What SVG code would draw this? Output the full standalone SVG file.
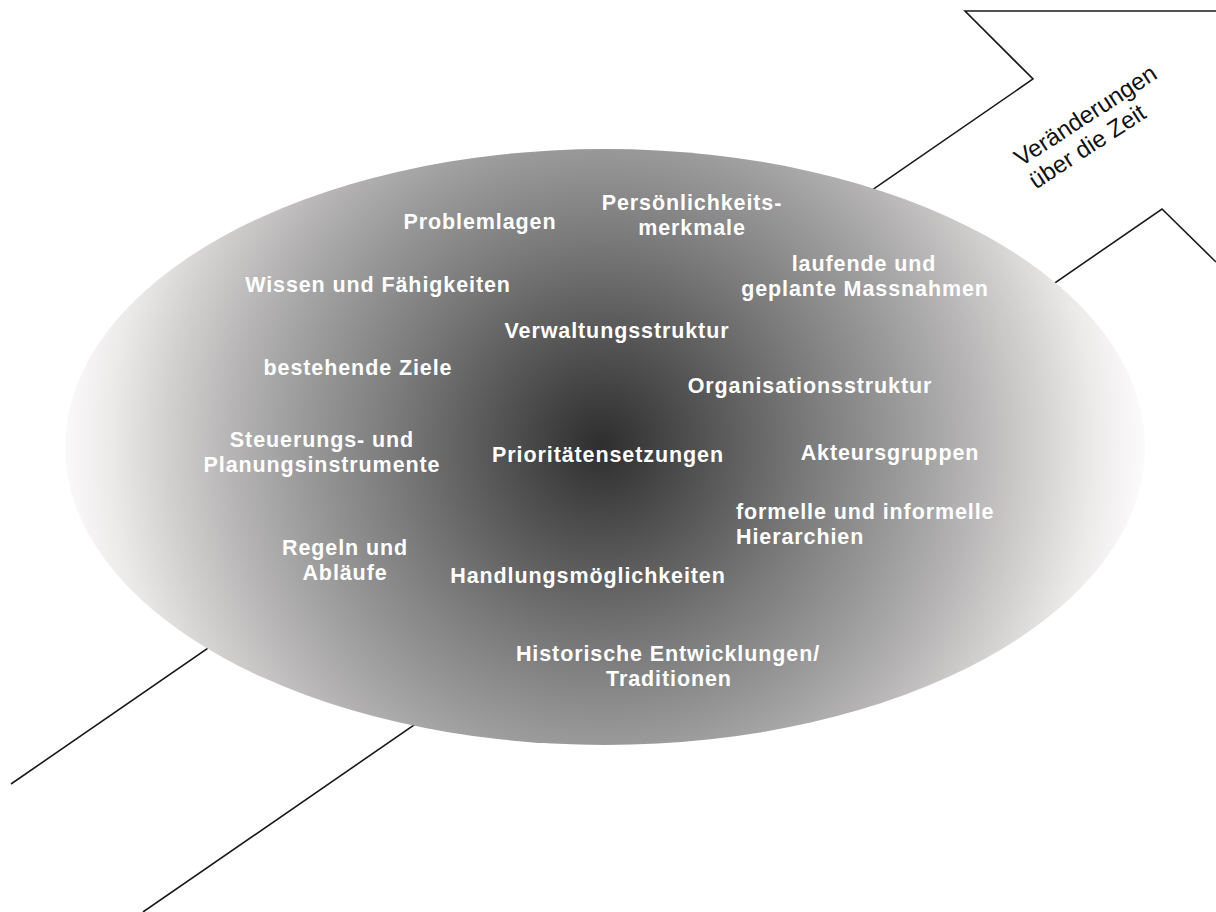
<svg xmlns="http://www.w3.org/2000/svg" width="1216" height="912" viewBox="0 0 1216 912">
  <defs>
    <radialGradient id="shade" gradientUnits="userSpaceOnUse" cx="602" cy="445" r="545">
      <stop offset="0" stop-color="#2e2e2e"/>
      <stop offset="0.18" stop-color="#525252"/>
      <stop offset="0.38" stop-color="#7a7a7a"/>
      <stop offset="0.54" stop-color="#989898"/>
      <stop offset="0.68" stop-color="#b6b4b4"/>
      <stop offset="0.8" stop-color="#d3d0d0"/>
      <stop offset="0.9" stop-color="#ece9e9"/>
      <stop offset="1" stop-color="#fdfcfc"/>
    </radialGradient>
    <style>
      .lbl { font-family: "Liberation Sans", Arial, sans-serif; font-weight: bold; font-size: 21.5px; fill: #ffffff; letter-spacing: 0.9px; text-anchor: middle; }
      .lft { text-anchor: start; }
      .arrowtxt { font-family: "Liberation Sans", Arial, sans-serif; font-size: 24px; fill: #111111; }
      .edge { fill: none; stroke: #1a1a1a; stroke-width: 1.6; stroke-linejoin: miter; }
    </style>
  </defs>
  <rect x="0" y="0" width="1216" height="912" fill="#ffffff"/>

  <g id="connectors">
    <path class="edge" d="M 11 784 L 1033 79 L 965 11 L 1216 11"/>
    <path class="edge" d="M 143 912 L 1162 209 L 1216 262"/>
  </g>

  <g id="time-arrow-label">
    <g transform="translate(1021,167) rotate(-33)">
      <text class="arrowtxt" x="0" y="0">Veränderungen</text>
      <text class="arrowtxt" x="0" y="27">über die Zeit</text>
    </g>
  </g>

  <g id="ellipse">
    <ellipse cx="605" cy="447" rx="540" ry="298" fill="url(#shade)"/>
  </g>

  <g id="problemlagen"><text class="lbl" x="480" y="229">Problemlagen</text></g>
  <g id="persoenlichkeitsmerkmale">
    <text class="lbl" x="692" y="210">Persönlichkeits-</text>
    <text class="lbl" x="692" y="235">merkmale</text>
  </g>
  <g id="wissen"><text class="lbl" x="378" y="292">Wissen und Fähigkeiten</text></g>
  <g id="massnahmen">
    <text class="lbl" x="864" y="271">laufende und</text>
    <text class="lbl" x="865" y="296">geplante Massnahmen</text>
  </g>
  <g id="verwaltungsstruktur"><text class="lbl" x="617" y="338">Verwaltungsstruktur</text></g>
  <g id="ziele"><text class="lbl" x="358" y="375">bestehende Ziele</text></g>
  <g id="organisationsstruktur"><text class="lbl" x="810" y="393">Organisationsstruktur</text></g>
  <g id="instrumente">
    <text class="lbl" x="322" y="447">Steuerungs- und</text>
    <text class="lbl" x="322" y="472">Planungsinstrumente</text>
  </g>
  <g id="prioritaeten"><text class="lbl" x="608" y="462">Prioritätensetzungen</text></g>
  <g id="akteursgruppen"><text class="lbl" x="890" y="460">Akteursgruppen</text></g>
  <g id="hierarchien">
    <text class="lbl lft" x="736" y="519">formelle und informelle</text>
    <text class="lbl lft" x="736" y="544">Hierarchien</text>
  </g>
  <g id="regeln">
    <text class="lbl" x="345" y="555">Regeln und</text>
    <text class="lbl" x="345" y="580">Abläufe</text>
  </g>
  <g id="handlungsmoeglichkeiten"><text class="lbl" x="588" y="583">Handlungsmöglichkeiten</text></g>
  <g id="historische">
    <text class="lbl" x="668" y="661">Historische Entwicklungen/</text>
    <text class="lbl" x="669" y="686">Traditionen</text>
  </g>
</svg>
